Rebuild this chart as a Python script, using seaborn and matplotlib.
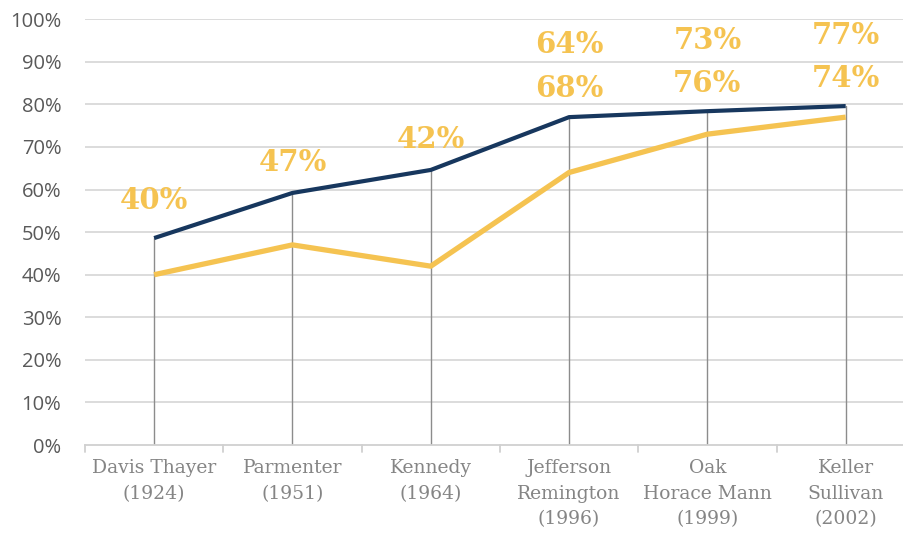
import matplotlib
matplotlib.use("Agg")
import matplotlib.pyplot as plt
import seaborn as sns
import pandas as pd
import numpy as np

schools = ["Davis Thayer\n(1924)", "Parmenter\n(1951)", "Kennedy\n(1964)",
           "Jefferson\nRemington\n(1996)", "Oak\nHorace Mann\n(1999)", "Keller\nSullivan\n(2002)"]
navy_values = [48.6, 59.2, 64.6, 77.0, 78.4, 79.6]
gold_values = [40, 47, 42, 64, 73, 77]
upper_labels = ["40%", "47%", "42%", "64%", "73%", "77%"]
lower_labels = [None, None, None, "68%", "76%", "74%"]
y_ticks = [0, 10, 20, 30, 40, 50, 60, 70, 80, 90, 100]

NAVY = "#17375E"
GOLD = "#F5C351"

sns.set_theme(style="white")

df = pd.DataFrame({
    "pos": list(range(len(schools))) * 2,
    "value": navy_values + gold_values,
    "series": ["navy"] * len(schools) + ["gold"] * len(schools),
})

fig = plt.figure(figsize=(9.04, 5.33), dpi=100)
ax = fig.add_axes([0.094, 0.165, 0.918, 0.799])

# horizontal gridlines
for t in y_ticks[1:]:
    ax.axhline(t, color="#D9D9D9", lw=1.3, zorder=0)

# drop lines from the upper series to the axis
for i, v in enumerate(navy_values):
    ax.plot([i, i], [-1.2, v], color="#8C8C8C", lw=1.0, zorder=1)

sns.lineplot(data=df, x="pos", y="value", hue="series",
             palette={"navy": NAVY, "gold": GOLD}, legend=False, ax=ax,
             zorder=3)
for line, lw in zip(ax.get_lines()[-2:], [3.0, 3.8]):
    line.set_linewidth(lw)
    line.set_solid_capstyle("butt")

# value labels above the points
first_off = [38, 30, 30, 73, 71, 71]
second_off = [0, 0, 0, 29, 28, 28]
label_style = dict(textcoords="offset pixels", ha="center", va="center",
                   fontsize=21, fontweight="heavy", family="DejaVu Serif",
                   color=GOLD, zorder=4)
for i, v in enumerate(navy_values):
    ax.annotate(upper_labels[i], (i, v), xytext=(0, first_off[i]), **label_style)
    if lower_labels[i]:
        ax.annotate(lower_labels[i], (i, v), xytext=(0, second_off[i]), **label_style)

ax.set_xlim(-0.5, len(schools) - 0.5)
ax.set_ylim(0, 100)
ax.set_yticks(y_ticks)
ax.set_yticklabels([f"{t}%" for t in y_ticks], fontsize=14.5, color="#595959",
                   family="Open Sans")
ax.set_xticks(range(len(schools)))
ax.set_xticklabels(schools, fontsize=13.5, color="#858585",
                   family="DejaVu Serif", linespacing=1.55)
ax.tick_params(axis="x", length=0, pad=10)
ax.tick_params(axis="y", length=0, pad=17)
# boundary ticks between categories
for b in np.arange(-0.5, len(schools), 1.0):
    ax.plot([b, b], [0, -1.6], color="#D0D0D0", lw=1.3, clip_on=False)

for s in ["top", "right", "left"]:
    ax.spines[s].set_visible(False)
ax.spines["bottom"].set_color("#D0D0D0")
ax.spines["bottom"].set_linewidth(1.3)
ax.set_xlabel("")
ax.set_ylabel("")

fig.savefig("out.png", dpi=100)
